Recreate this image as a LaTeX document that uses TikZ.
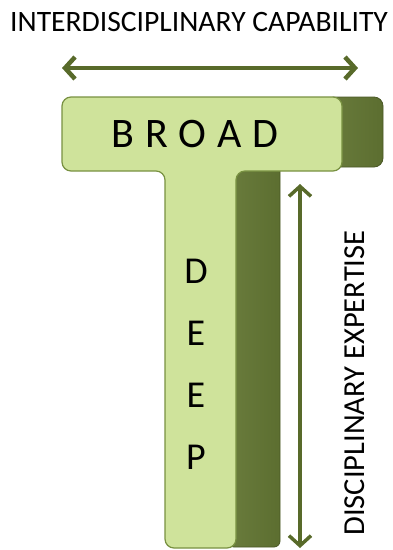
\documentclass[tikz,border=0pt]{standalone}
\usepackage{fontspec}
\setmainfont{Carlito}
\usetikzlibrary{arrows.meta}
\definecolor{lightg}{RGB}{207,227,155}
\definecolor{darkg}{RGB}{92,110,48}
\definecolor{edgeg}{RGB}{120,145,65}
\definecolor{arrowg}{RGB}{88,106,42}
\tikzset{
  darkpart/.style={left color=darkg!88!lightg, right color=darkg, draw=darkg!80!black, line width=0.8pt},
  lightpart/.style={fill=lightg, draw=edgeg, line width=1.2pt},
  dblarrow/.style={draw=arrowg, {Straight Barb[length=10pt,width=22pt]}-{Straight Barb[length=10pt,width=22pt]}},
  label/.style={inner sep=0pt}
}
\begin{document}
\begin{tikzpicture}[x=1pt,y=-1pt]
\useasboundingbox (0,0) rectangle (393,550);
% dark sides
\draw[darkpart, rounded corners=9pt] (325,97) rectangle (383,167);
\draw[darkpart, rounded corners=6pt] (228,160) rectangle (280,547);
% light T
\draw[lightpart, rounded corners=9pt]
  (62,97) -- (342,97) -- (342,171) -- (236,171) -- (236,548) -- (165,548)
  -- (165,171) -- (62,171) -- cycle;
% texts
\node[label, font=\fontsize{29.6}{34}\selectfont] (top) at (199,22) {INTERDISCIPLINARY CAPABILITY};
\node[label, rotate=90, font=\fontsize{30.5}{34}\selectfont] (side) at (355,383) {DISCIPLINARY EXPERTISE};
\node[font=\fontsize{42}{42}\selectfont, inner sep=0pt] (broad) at (195,134)
  {B\hspace{11pt}R\hspace{11pt}O\hspace{11pt}A\hspace{11pt}D};
\node[font=\fontsize{38}{62}\selectfont, align=center, inner sep=0pt] (deep) at (196,364)
  {D\\E\\E\\P};
% arrows
\coordinate (hl) at (62,68);
\coordinate (hr) at (358,68);
\coordinate (vt) at (300,184);
\coordinate (vb) at (300,548);
\draw[dblarrow, line width=4.5pt] (hl) -- (hr);
\draw[dblarrow, line width=3.5pt] (vt) -- (vb);
\end{tikzpicture}
\end{document}
